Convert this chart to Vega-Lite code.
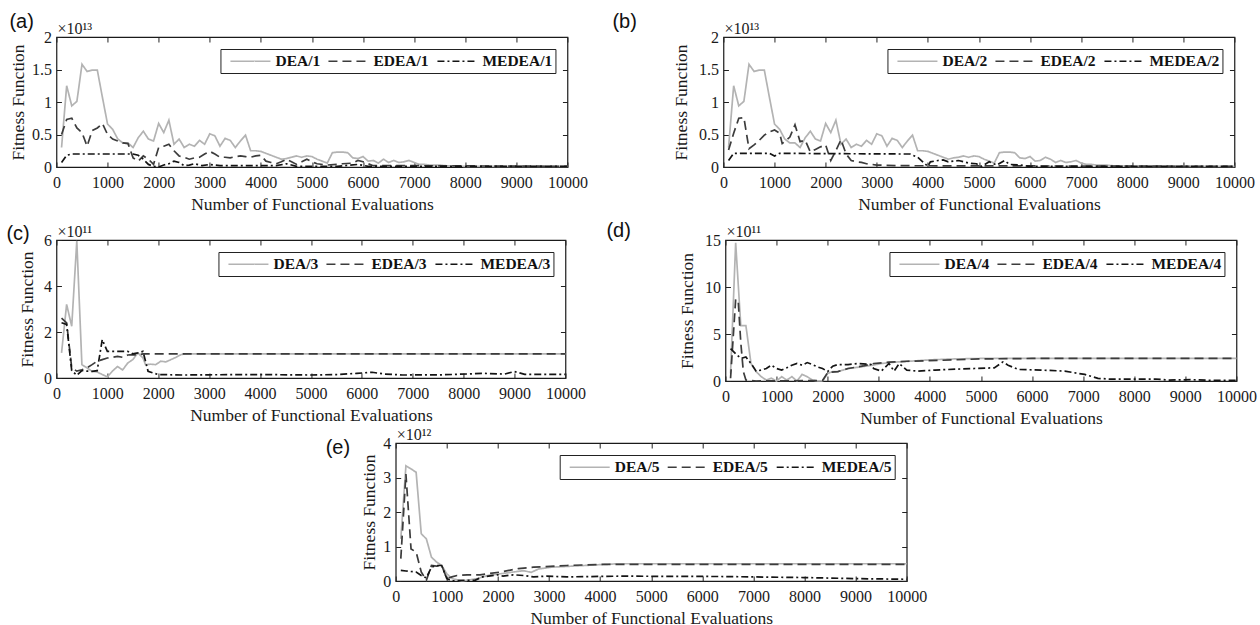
{
"$schema": "https://vega.github.io/schema/vega-lite/v6.json",
"background": "white",
"padding": {"left": 5, "top": 11, "right": 0, "bottom": 0},
"config": {
  "view": {"stroke": "#1a1a1a", "strokeWidth": 1.2},
  "axis": {"labelFont": "Liberation Serif", "labelFontSize": 16, "labelColor": "#1a1a1a", "titleFont": "Liberation Serif", "titleFontSize": 17.5, "titleFontWeight": "normal", "titleColor": "#1a1a1a", "grid": false, "domain": false, "tickColor": "#222", "tickSize": -5, "labelPadding": 10, "labelFlush": false, "labelOverlap": false},
  "axisBottom": {"labelPadding": 12, "titlePadding": 5},
  "legend": {"orient": "top-right", "offset": 12, "direction": "horizontal", "strokeColor": "#222", "fillColor": "white", "padding": 3, "symbolType": "M-2.5,0H2.5", "symbolSize": 256, "symbolOffset": 18, "symbolStrokeWidth": 1.8, "labelFont": "Liberation Serif", "labelFontSize": 15.5, "labelFontWeight": "bold", "labelColor": "#111", "labelOffset": 16, "columnPadding": 1, "cornerRadius": 0},
  "title": {"font": "Liberation Sans", "fontSize": 20, "fontWeight": "normal", "color": "#111", "anchor": "start", "frame": "group"},
  "line": {"strokeWidth": 1.7}
},
"datasets": {
"a": [
{"x":100,"y":0.30,"s":"DEA/1"},{"x":200,"y":1.25,"s":"DEA/1"},{"x":300,"y":0.94,"s":"DEA/1"},{"x":400,"y":1.01,"s":"DEA/1"},{"x":500,"y":1.58,"s":"DEA/1"},{"x":600,"y":1.47,"s":"DEA/1"},{"x":700,"y":1.49,"s":"DEA/1"},{"x":800,"y":1.49,"s":"DEA/1"},{"x":900,"y":1.07,"s":"DEA/1"},{"x":1000,"y":0.66,"s":"DEA/1"},{"x":1100,"y":0.58,"s":"DEA/1"},{"x":1200,"y":0.43,"s":"DEA/1"},{"x":1300,"y":0.37,"s":"DEA/1"},{"x":1400,"y":0.37,"s":"DEA/1"},{"x":1500,"y":0.30,"s":"DEA/1"},{"x":1600,"y":0.45,"s":"DEA/1"},{"x":1700,"y":0.55,"s":"DEA/1"},{"x":1800,"y":0.43,"s":"DEA/1"},{"x":1900,"y":0.40,"s":"DEA/1"},{"x":2000,"y":0.67,"s":"DEA/1"},{"x":2100,"y":0.53,"s":"DEA/1"},{"x":2200,"y":0.72,"s":"DEA/1"},{"x":2300,"y":0.35,"s":"DEA/1"},{"x":2400,"y":0.43,"s":"DEA/1"},{"x":2500,"y":0.30,"s":"DEA/1"},{"x":2600,"y":0.35,"s":"DEA/1"},{"x":2700,"y":0.32,"s":"DEA/1"},{"x":2800,"y":0.41,"s":"DEA/1"},{"x":2900,"y":0.35,"s":"DEA/1"},{"x":3000,"y":0.51,"s":"DEA/1"},{"x":3100,"y":0.48,"s":"DEA/1"},{"x":3200,"y":0.32,"s":"DEA/1"},{"x":3300,"y":0.44,"s":"DEA/1"},{"x":3400,"y":0.41,"s":"DEA/1"},{"x":3500,"y":0.30,"s":"DEA/1"},{"x":3600,"y":0.40,"s":"DEA/1"},{"x":3700,"y":0.49,"s":"DEA/1"},{"x":3800,"y":0.25,"s":"DEA/1"},{"x":3900,"y":0.25,"s":"DEA/1"},{"x":4000,"y":0.24,"s":"DEA/1"},{"x":4100,"y":0.21,"s":"DEA/1"},{"x":4200,"y":0.18,"s":"DEA/1"},{"x":4300,"y":0.15,"s":"DEA/1"},{"x":4400,"y":0.12,"s":"DEA/1"},{"x":4500,"y":0.13,"s":"DEA/1"},{"x":4600,"y":0.15,"s":"DEA/1"},{"x":4700,"y":0.17,"s":"DEA/1"},{"x":4800,"y":0.15,"s":"DEA/1"},{"x":4900,"y":0.17,"s":"DEA/1"},{"x":5000,"y":0.16,"s":"DEA/1"},{"x":5100,"y":0.12,"s":"DEA/1"},{"x":5200,"y":0.09,"s":"DEA/1"},{"x":5300,"y":0.06,"s":"DEA/1"},{"x":5400,"y":0.22,"s":"DEA/1"},{"x":5500,"y":0.23,"s":"DEA/1"},{"x":5600,"y":0.23,"s":"DEA/1"},{"x":5700,"y":0.22,"s":"DEA/1"},{"x":5800,"y":0.14,"s":"DEA/1"},{"x":5900,"y":0.13,"s":"DEA/1"},{"x":6000,"y":0.16,"s":"DEA/1"},{"x":6100,"y":0.09,"s":"DEA/1"},{"x":6200,"y":0.10,"s":"DEA/1"},{"x":6300,"y":0.06,"s":"DEA/1"},{"x":6400,"y":0.12,"s":"DEA/1"},{"x":6500,"y":0.07,"s":"DEA/1"},{"x":6600,"y":0.10,"s":"DEA/1"},{"x":6700,"y":0.07,"s":"DEA/1"},{"x":6800,"y":0.08,"s":"DEA/1"},{"x":6900,"y":0.10,"s":"DEA/1"},{"x":7000,"y":0.07,"s":"DEA/1"},{"x":7100,"y":0.04,"s":"DEA/1"},{"x":7200,"y":0.04,"s":"DEA/1"},{"x":7300,"y":0.03,"s":"DEA/1"},{"x":7500,"y":0.03,"s":"DEA/1"},{"x":7600,"y":0.02,"s":"DEA/1"},{"x":8000,"y":0.01,"s":"DEA/1"},{"x":10000,"y":0.01,"s":"DEA/1"},
{"x":100,"y":0.50,"s":"EDEA/1"},{"x":200,"y":0.73,"s":"EDEA/1"},{"x":300,"y":0.75,"s":"EDEA/1"},{"x":400,"y":0.60,"s":"EDEA/1"},{"x":500,"y":0.53,"s":"EDEA/1"},{"x":600,"y":0.32,"s":"EDEA/1"},{"x":700,"y":0.56,"s":"EDEA/1"},{"x":800,"y":0.60,"s":"EDEA/1"},{"x":900,"y":0.67,"s":"EDEA/1"},{"x":1000,"y":0.50,"s":"EDEA/1"},{"x":1100,"y":0.43,"s":"EDEA/1"},{"x":1200,"y":0.40,"s":"EDEA/1"},{"x":1300,"y":0.37,"s":"EDEA/1"},{"x":1400,"y":0.36,"s":"EDEA/1"},{"x":1500,"y":0.14,"s":"EDEA/1"},{"x":1600,"y":0.09,"s":"EDEA/1"},{"x":1700,"y":0.17,"s":"EDEA/1"},{"x":1800,"y":0.12,"s":"EDEA/1"},{"x":1900,"y":0.04,"s":"EDEA/1"},{"x":2000,"y":0.30,"s":"EDEA/1"},{"x":2100,"y":0.32,"s":"EDEA/1"},{"x":2200,"y":0.35,"s":"EDEA/1"},{"x":2300,"y":0.25,"s":"EDEA/1"},{"x":2400,"y":0.17,"s":"EDEA/1"},{"x":2500,"y":0.15,"s":"EDEA/1"},{"x":2600,"y":0.12,"s":"EDEA/1"},{"x":2700,"y":0.14,"s":"EDEA/1"},{"x":2800,"y":0.15,"s":"EDEA/1"},{"x":2900,"y":0.20,"s":"EDEA/1"},{"x":3000,"y":0.24,"s":"EDEA/1"},{"x":3100,"y":0.20,"s":"EDEA/1"},{"x":3200,"y":0.15,"s":"EDEA/1"},{"x":3300,"y":0.15,"s":"EDEA/1"},{"x":3400,"y":0.14,"s":"EDEA/1"},{"x":3500,"y":0.16,"s":"EDEA/1"},{"x":3600,"y":0.17,"s":"EDEA/1"},{"x":3700,"y":0.16,"s":"EDEA/1"},{"x":3800,"y":0.15,"s":"EDEA/1"},{"x":3900,"y":0.17,"s":"EDEA/1"},{"x":4000,"y":0.18,"s":"EDEA/1"},{"x":4100,"y":0.09,"s":"EDEA/1"},{"x":4200,"y":0.07,"s":"EDEA/1"},{"x":4300,"y":0.05,"s":"EDEA/1"},{"x":4400,"y":0.08,"s":"EDEA/1"},{"x":4500,"y":0.12,"s":"EDEA/1"},{"x":4600,"y":0.08,"s":"EDEA/1"},{"x":4700,"y":0.04,"s":"EDEA/1"},{"x":4800,"y":0.08,"s":"EDEA/1"},{"x":4900,"y":0.12,"s":"EDEA/1"},{"x":5000,"y":0.08,"s":"EDEA/1"},{"x":5100,"y":0.05,"s":"EDEA/1"},{"x":5300,"y":0.03,"s":"EDEA/1"},{"x":5500,"y":0.04,"s":"EDEA/1"},{"x":5600,"y":0.05,"s":"EDEA/1"},{"x":5800,"y":0.06,"s":"EDEA/1"},{"x":5900,"y":0.10,"s":"EDEA/1"},{"x":6000,"y":0.08,"s":"EDEA/1"},{"x":6200,"y":0.02,"s":"EDEA/1"},{"x":7000,"y":0.02,"s":"EDEA/1"},{"x":10000,"y":0.01,"s":"EDEA/1"},
{"x":100,"y":0.07,"s":"MEDEA/1"},{"x":200,"y":0.18,"s":"MEDEA/1"},{"x":300,"y":0.20,"s":"MEDEA/1"},{"x":1500,"y":0.20,"s":"MEDEA/1"},{"x":1600,"y":0.18,"s":"MEDEA/1"},{"x":1700,"y":0.12,"s":"MEDEA/1"},{"x":1800,"y":0.04,"s":"MEDEA/1"},{"x":1900,"y":0.01,"s":"MEDEA/1"},{"x":2000,"y":0.0,"s":"MEDEA/1"},{"x":2100,"y":0.03,"s":"MEDEA/1"},{"x":2200,"y":0.05,"s":"MEDEA/1"},{"x":2300,"y":0.09,"s":"MEDEA/1"},{"x":2400,"y":0.07,"s":"MEDEA/1"},{"x":2500,"y":0.02,"s":"MEDEA/1"},{"x":2600,"y":0.03,"s":"MEDEA/1"},{"x":2700,"y":0.05,"s":"MEDEA/1"},{"x":2850,"y":0.02,"s":"MEDEA/1"},{"x":3000,"y":0.04,"s":"MEDEA/1"},{"x":3200,"y":0.02,"s":"MEDEA/1"},{"x":4300,"y":0.02,"s":"MEDEA/1"},{"x":4500,"y":0.05,"s":"MEDEA/1"},{"x":4700,"y":0.01,"s":"MEDEA/1"},{"x":5500,"y":0.01,"s":"MEDEA/1"},{"x":5900,"y":0.04,"s":"MEDEA/1"},{"x":6100,"y":0.01,"s":"MEDEA/1"},{"x":10000,"y":0.01,"s":"MEDEA/1"}
],
"b": [
{"x":100,"y":0.30,"s":"DEA/2"},{"x":200,"y":1.25,"s":"DEA/2"},{"x":300,"y":0.94,"s":"DEA/2"},{"x":400,"y":1.01,"s":"DEA/2"},{"x":500,"y":1.58,"s":"DEA/2"},{"x":600,"y":1.47,"s":"DEA/2"},{"x":700,"y":1.49,"s":"DEA/2"},{"x":800,"y":1.49,"s":"DEA/2"},{"x":900,"y":1.07,"s":"DEA/2"},{"x":1000,"y":0.66,"s":"DEA/2"},{"x":1100,"y":0.58,"s":"DEA/2"},{"x":1200,"y":0.43,"s":"DEA/2"},{"x":1300,"y":0.37,"s":"DEA/2"},{"x":1400,"y":0.37,"s":"DEA/2"},{"x":1500,"y":0.30,"s":"DEA/2"},{"x":1600,"y":0.45,"s":"DEA/2"},{"x":1700,"y":0.55,"s":"DEA/2"},{"x":1800,"y":0.43,"s":"DEA/2"},{"x":1900,"y":0.40,"s":"DEA/2"},{"x":2000,"y":0.67,"s":"DEA/2"},{"x":2100,"y":0.53,"s":"DEA/2"},{"x":2200,"y":0.72,"s":"DEA/2"},{"x":2300,"y":0.35,"s":"DEA/2"},{"x":2400,"y":0.43,"s":"DEA/2"},{"x":2500,"y":0.30,"s":"DEA/2"},{"x":2600,"y":0.35,"s":"DEA/2"},{"x":2700,"y":0.32,"s":"DEA/2"},{"x":2800,"y":0.41,"s":"DEA/2"},{"x":2900,"y":0.35,"s":"DEA/2"},{"x":3000,"y":0.51,"s":"DEA/2"},{"x":3100,"y":0.48,"s":"DEA/2"},{"x":3200,"y":0.32,"s":"DEA/2"},{"x":3300,"y":0.44,"s":"DEA/2"},{"x":3400,"y":0.41,"s":"DEA/2"},{"x":3500,"y":0.30,"s":"DEA/2"},{"x":3600,"y":0.40,"s":"DEA/2"},{"x":3700,"y":0.49,"s":"DEA/2"},{"x":3800,"y":0.25,"s":"DEA/2"},{"x":3900,"y":0.25,"s":"DEA/2"},{"x":4000,"y":0.24,"s":"DEA/2"},{"x":4100,"y":0.21,"s":"DEA/2"},{"x":4200,"y":0.18,"s":"DEA/2"},{"x":4300,"y":0.15,"s":"DEA/2"},{"x":4400,"y":0.12,"s":"DEA/2"},{"x":4500,"y":0.14,"s":"DEA/2"},{"x":4600,"y":0.15,"s":"DEA/2"},{"x":4700,"y":0.17,"s":"DEA/2"},{"x":4800,"y":0.15,"s":"DEA/2"},{"x":4900,"y":0.17,"s":"DEA/2"},{"x":5000,"y":0.16,"s":"DEA/2"},{"x":5100,"y":0.12,"s":"DEA/2"},{"x":5200,"y":0.09,"s":"DEA/2"},{"x":5300,"y":0.06,"s":"DEA/2"},{"x":5400,"y":0.22,"s":"DEA/2"},{"x":5500,"y":0.23,"s":"DEA/2"},{"x":5600,"y":0.23,"s":"DEA/2"},{"x":5700,"y":0.22,"s":"DEA/2"},{"x":5800,"y":0.14,"s":"DEA/2"},{"x":5900,"y":0.13,"s":"DEA/2"},{"x":6000,"y":0.16,"s":"DEA/2"},{"x":6100,"y":0.09,"s":"DEA/2"},{"x":6200,"y":0.10,"s":"DEA/2"},{"x":6300,"y":0.15,"s":"DEA/2"},{"x":6400,"y":0.12,"s":"DEA/2"},{"x":6500,"y":0.07,"s":"DEA/2"},{"x":6600,"y":0.10,"s":"DEA/2"},{"x":6700,"y":0.07,"s":"DEA/2"},{"x":6800,"y":0.08,"s":"DEA/2"},{"x":6900,"y":0.10,"s":"DEA/2"},{"x":7000,"y":0.06,"s":"DEA/2"},{"x":7100,"y":0.04,"s":"DEA/2"},{"x":7200,"y":0.04,"s":"DEA/2"},{"x":7300,"y":0.03,"s":"DEA/2"},{"x":7500,"y":0.03,"s":"DEA/2"},{"x":7600,"y":0.02,"s":"DEA/2"},{"x":8000,"y":0.01,"s":"DEA/2"},{"x":10000,"y":0.01,"s":"DEA/2"},
{"x":100,"y":0.26,"s":"EDEA/2"},{"x":200,"y":0.52,"s":"EDEA/2"},{"x":300,"y":0.75,"s":"EDEA/2"},{"x":400,"y":0.76,"s":"EDEA/2"},{"x":500,"y":0.28,"s":"EDEA/2"},{"x":600,"y":0.34,"s":"EDEA/2"},{"x":700,"y":0.41,"s":"EDEA/2"},{"x":800,"y":0.49,"s":"EDEA/2"},{"x":900,"y":0.54,"s":"EDEA/2"},{"x":1000,"y":0.57,"s":"EDEA/2"},{"x":1100,"y":0.52,"s":"EDEA/2"},{"x":1150,"y":0.36,"s":"EDEA/2"},{"x":1200,"y":0.39,"s":"EDEA/2"},{"x":1300,"y":0.46,"s":"EDEA/2"},{"x":1400,"y":0.65,"s":"EDEA/2"},{"x":1500,"y":0.39,"s":"EDEA/2"},{"x":1600,"y":0.41,"s":"EDEA/2"},{"x":1700,"y":0.23,"s":"EDEA/2"},{"x":1800,"y":0.27,"s":"EDEA/2"},{"x":1900,"y":0.31,"s":"EDEA/2"},{"x":2000,"y":0.34,"s":"EDEA/2"},{"x":2100,"y":0.10,"s":"EDEA/2"},{"x":2200,"y":0.25,"s":"EDEA/2"},{"x":2300,"y":0.42,"s":"EDEA/2"},{"x":2400,"y":0.20,"s":"EDEA/2"},{"x":2500,"y":0.10,"s":"EDEA/2"},{"x":2600,"y":0.08,"s":"EDEA/2"},{"x":2700,"y":0.07,"s":"EDEA/2"},{"x":2800,"y":0.05,"s":"EDEA/2"},{"x":2900,"y":0.04,"s":"EDEA/2"},{"x":3000,"y":0.03,"s":"EDEA/2"},{"x":3400,"y":0.02,"s":"EDEA/2"},{"x":10000,"y":0.01,"s":"EDEA/2"},
{"x":100,"y":0.10,"s":"MEDEA/2"},{"x":200,"y":0.21,"s":"MEDEA/2"},{"x":900,"y":0.21,"s":"MEDEA/2"},{"x":1000,"y":0.17,"s":"MEDEA/2"},{"x":1100,"y":0.21,"s":"MEDEA/2"},{"x":3500,"y":0.20,"s":"MEDEA/2"},{"x":3650,"y":0.20,"s":"MEDEA/2"},{"x":3800,"y":0.15,"s":"MEDEA/2"},{"x":3900,"y":0.08,"s":"MEDEA/2"},{"x":4000,"y":0.01,"s":"MEDEA/2"},{"x":4050,"y":0.08,"s":"MEDEA/2"},{"x":4200,"y":0.10,"s":"MEDEA/2"},{"x":4300,"y":0.11,"s":"MEDEA/2"},{"x":4400,"y":0.08,"s":"MEDEA/2"},{"x":4600,"y":0.10,"s":"MEDEA/2"},{"x":4800,"y":0.06,"s":"MEDEA/2"},{"x":4950,"y":0.05,"s":"MEDEA/2"},{"x":5050,"y":0.01,"s":"MEDEA/2"},{"x":5200,"y":0.08,"s":"MEDEA/2"},{"x":5350,"y":0.03,"s":"MEDEA/2"},{"x":5500,"y":0.10,"s":"MEDEA/2"},{"x":5600,"y":0.04,"s":"MEDEA/2"},{"x":5800,"y":0.03,"s":"MEDEA/2"},{"x":6000,"y":0.01,"s":"MEDEA/2"},{"x":10000,"y":0.01,"s":"MEDEA/2"}
],
"c": [
{"x":100,"y":1.09,"s":"DEA/3"},{"x":200,"y":3.2,"s":"DEA/3"},{"x":300,"y":2.25,"s":"DEA/3"},{"x":400,"y":5.96,"s":"DEA/3"},{"x":500,"y":0.58,"s":"DEA/3"},{"x":600,"y":0.44,"s":"DEA/3"},{"x":700,"y":0.29,"s":"DEA/3"},{"x":800,"y":0.26,"s":"DEA/3"},{"x":900,"y":0.15,"s":"DEA/3"},{"x":1000,"y":0.05,"s":"DEA/3"},{"x":1100,"y":0.3,"s":"DEA/3"},{"x":1200,"y":0.5,"s":"DEA/3"},{"x":1300,"y":0.35,"s":"DEA/3"},{"x":1400,"y":0.65,"s":"DEA/3"},{"x":1500,"y":0.8,"s":"DEA/3"},{"x":1600,"y":1.09,"s":"DEA/3"},{"x":1700,"y":0.87,"s":"DEA/3"},{"x":1750,"y":0.58,"s":"DEA/3"},{"x":1850,"y":0.6,"s":"DEA/3"},{"x":1950,"y":0.58,"s":"DEA/3"},{"x":2050,"y":0.73,"s":"DEA/3"},{"x":2150,"y":0.7,"s":"DEA/3"},{"x":2250,"y":0.8,"s":"DEA/3"},{"x":2350,"y":0.9,"s":"DEA/3"},{"x":2450,"y":1.02,"s":"DEA/3"},{"x":2550,"y":1.05,"s":"DEA/3"},{"x":10000,"y":1.05,"s":"DEA/3"},
{"x":100,"y":2.6,"s":"EDEA/3"},{"x":200,"y":2.4,"s":"EDEA/3"},{"x":300,"y":0.44,"s":"EDEA/3"},{"x":400,"y":0.3,"s":"EDEA/3"},{"x":500,"y":0.36,"s":"EDEA/3"},{"x":600,"y":0.44,"s":"EDEA/3"},{"x":700,"y":0.58,"s":"EDEA/3"},{"x":800,"y":0.73,"s":"EDEA/3"},{"x":900,"y":0.8,"s":"EDEA/3"},{"x":1000,"y":0.87,"s":"EDEA/3"},{"x":1100,"y":0.9,"s":"EDEA/3"},{"x":1200,"y":0.94,"s":"EDEA/3"},{"x":1300,"y":0.9,"s":"EDEA/3"},{"x":1400,"y":1.0,"s":"EDEA/3"},{"x":1500,"y":1.02,"s":"EDEA/3"},{"x":1600,"y":1.0,"s":"EDEA/3"},{"x":1700,"y":1.05,"s":"EDEA/3"},{"x":10000,"y":1.05,"s":"EDEA/3"},
{"x":100,"y":2.4,"s":"MEDEA/3"},{"x":200,"y":2.33,"s":"MEDEA/3"},{"x":300,"y":0.32,"s":"MEDEA/3"},{"x":400,"y":0.12,"s":"MEDEA/3"},{"x":500,"y":0.32,"s":"MEDEA/3"},{"x":600,"y":0.3,"s":"MEDEA/3"},{"x":700,"y":0.29,"s":"MEDEA/3"},{"x":800,"y":0.32,"s":"MEDEA/3"},{"x":900,"y":1.67,"s":"MEDEA/3"},{"x":1000,"y":1.16,"s":"MEDEA/3"},{"x":1400,"y":1.16,"s":"MEDEA/3"},{"x":1500,"y":1.05,"s":"MEDEA/3"},{"x":1600,"y":1.09,"s":"MEDEA/3"},{"x":1700,"y":1.16,"s":"MEDEA/3"},{"x":1800,"y":0.29,"s":"MEDEA/3"},{"x":1900,"y":0.22,"s":"MEDEA/3"},{"x":2000,"y":0.15,"s":"MEDEA/3"},{"x":2500,"y":0.13,"s":"MEDEA/3"},{"x":3000,"y":0.14,"s":"MEDEA/3"},{"x":4000,"y":0.15,"s":"MEDEA/3"},{"x":5000,"y":0.13,"s":"MEDEA/3"},{"x":5500,"y":0.15,"s":"MEDEA/3"},{"x":5900,"y":0.2,"s":"MEDEA/3"},{"x":6200,"y":0.25,"s":"MEDEA/3"},{"x":6450,"y":0.17,"s":"MEDEA/3"},{"x":6800,"y":0.13,"s":"MEDEA/3"},{"x":7600,"y":0.14,"s":"MEDEA/3"},{"x":8400,"y":0.2,"s":"MEDEA/3"},{"x":8800,"y":0.17,"s":"MEDEA/3"},{"x":9000,"y":0.28,"s":"MEDEA/3"},{"x":9200,"y":0.16,"s":"MEDEA/3"},{"x":10000,"y":0.16,"s":"MEDEA/3"}
],
"d": [
{"x":100,"y":0.8,"s":"DEA/4"},{"x":200,"y":14.7,"s":"DEA/4"},{"x":300,"y":5.9,"s":"DEA/4"},{"x":400,"y":5.9,"s":"DEA/4"},{"x":500,"y":1.86,"s":"DEA/4"},{"x":600,"y":1.0,"s":"DEA/4"},{"x":700,"y":0.46,"s":"DEA/4"},{"x":800,"y":0.1,"s":"DEA/4"},{"x":900,"y":0.3,"s":"DEA/4"},{"x":1000,"y":0.0,"s":"DEA/4"},{"x":1100,"y":0.46,"s":"DEA/4"},{"x":1200,"y":0.1,"s":"DEA/4"},{"x":1300,"y":0.46,"s":"DEA/4"},{"x":1400,"y":0.0,"s":"DEA/4"},{"x":1500,"y":0.7,"s":"DEA/4"},{"x":1600,"y":0.46,"s":"DEA/4"},{"x":1700,"y":0.1,"s":"DEA/4"},{"x":1800,"y":0.0,"s":"DEA/4"},{"x":1900,"y":0.0,"s":"DEA/4"},{"x":2000,"y":0.8,"s":"DEA/4"},{"x":2100,"y":1.0,"s":"DEA/4"},{"x":2200,"y":1.0,"s":"DEA/4"},{"x":2300,"y":1.16,"s":"DEA/4"},{"x":2400,"y":1.33,"s":"DEA/4"},{"x":2500,"y":1.4,"s":"DEA/4"},{"x":2650,"y":1.5,"s":"DEA/4"},{"x":2900,"y":1.7,"s":"DEA/4"},{"x":3050,"y":1.86,"s":"DEA/4"},{"x":3300,"y":2.0,"s":"DEA/4"},{"x":3600,"y":2.1,"s":"DEA/4"},{"x":4000,"y":2.25,"s":"DEA/4"},{"x":4500,"y":2.35,"s":"DEA/4"},{"x":5000,"y":2.4,"s":"DEA/4"},{"x":10000,"y":2.4,"s":"DEA/4"},
{"x":100,"y":0.3,"s":"EDEA/4"},{"x":200,"y":8.7,"s":"EDEA/4"},{"x":250,"y":8.5,"s":"EDEA/4"},{"x":300,"y":4.1,"s":"EDEA/4"},{"x":350,"y":1.0,"s":"EDEA/4"},{"x":400,"y":0.1,"s":"EDEA/4"},{"x":600,"y":0.0,"s":"EDEA/4"},{"x":1900,"y":0.05,"s":"EDEA/4"},{"x":2000,"y":0.9,"s":"EDEA/4"},{"x":2200,"y":1.0,"s":"EDEA/4"},{"x":2400,"y":1.33,"s":"EDEA/4"},{"x":2700,"y":1.6,"s":"EDEA/4"},{"x":2900,"y":1.86,"s":"EDEA/4"},{"x":3200,"y":2.0,"s":"EDEA/4"},{"x":3550,"y":2.1,"s":"EDEA/4"},{"x":4200,"y":2.2,"s":"EDEA/4"},{"x":5000,"y":2.35,"s":"EDEA/4"},{"x":6000,"y":2.4,"s":"EDEA/4"},{"x":10000,"y":2.4,"s":"EDEA/4"},
{"x":100,"y":3.44,"s":"MEDEA/4"},{"x":200,"y":2.9,"s":"MEDEA/4"},{"x":300,"y":2.4,"s":"MEDEA/4"},{"x":400,"y":2.56,"s":"MEDEA/4"},{"x":500,"y":1.86,"s":"MEDEA/4"},{"x":600,"y":1.05,"s":"MEDEA/4"},{"x":700,"y":1.16,"s":"MEDEA/4"},{"x":800,"y":1.33,"s":"MEDEA/4"},{"x":900,"y":1.68,"s":"MEDEA/4"},{"x":1000,"y":1.33,"s":"MEDEA/4"},{"x":1100,"y":1.16,"s":"MEDEA/4"},{"x":1200,"y":1.4,"s":"MEDEA/4"},{"x":1300,"y":1.68,"s":"MEDEA/4"},{"x":1400,"y":1.86,"s":"MEDEA/4"},{"x":1500,"y":1.68,"s":"MEDEA/4"},{"x":1600,"y":1.96,"s":"MEDEA/4"},{"x":1700,"y":1.75,"s":"MEDEA/4"},{"x":1800,"y":1.5,"s":"MEDEA/4"},{"x":1900,"y":1.33,"s":"MEDEA/4"},{"x":2000,"y":1.0,"s":"MEDEA/4"},{"x":2100,"y":1.58,"s":"MEDEA/4"},{"x":2200,"y":1.75,"s":"MEDEA/4"},{"x":2400,"y":1.75,"s":"MEDEA/4"},{"x":2600,"y":1.86,"s":"MEDEA/4"},{"x":2850,"y":1.75,"s":"MEDEA/4"},{"x":2900,"y":1.33,"s":"MEDEA/4"},{"x":3050,"y":1.05,"s":"MEDEA/4"},{"x":3200,"y":1.86,"s":"MEDEA/4"},{"x":3300,"y":1.05,"s":"MEDEA/4"},{"x":3400,"y":1.86,"s":"MEDEA/4"},{"x":3550,"y":1.16,"s":"MEDEA/4"},{"x":3750,"y":1.05,"s":"MEDEA/4"},{"x":4100,"y":1.16,"s":"MEDEA/4"},{"x":4500,"y":1.26,"s":"MEDEA/4"},{"x":4870,"y":1.33,"s":"MEDEA/4"},{"x":5260,"y":1.4,"s":"MEDEA/4"},{"x":5430,"y":2.03,"s":"MEDEA/4"},{"x":5530,"y":1.68,"s":"MEDEA/4"},{"x":5730,"y":1.23,"s":"MEDEA/4"},{"x":6180,"y":1.16,"s":"MEDEA/4"},{"x":6640,"y":1.05,"s":"MEDEA/4"},{"x":7030,"y":0.7,"s":"MEDEA/4"},{"x":7290,"y":0.28,"s":"MEDEA/4"},{"x":7500,"y":0.21,"s":"MEDEA/4"},{"x":8410,"y":0.21,"s":"MEDEA/4"},{"x":8670,"y":0.1,"s":"MEDEA/4"},{"x":9130,"y":0.14,"s":"MEDEA/4"},{"x":9460,"y":0.07,"s":"MEDEA/4"},{"x":10000,"y":0.07,"s":"MEDEA/4"}
],
"e": [
{"x":100,"y":1.22,"s":"DEA/5"},{"x":200,"y":3.34,"s":"DEA/5"},{"x":300,"y":3.25,"s":"DEA/5"},{"x":400,"y":3.15,"s":"DEA/5"},{"x":500,"y":1.37,"s":"DEA/5"},{"x":600,"y":1.22,"s":"DEA/5"},{"x":700,"y":0.69,"s":"DEA/5"},{"x":800,"y":0.55,"s":"DEA/5"},{"x":900,"y":0.45,"s":"DEA/5"},{"x":1000,"y":0.21,"s":"DEA/5"},{"x":1100,"y":0.07,"s":"DEA/5"},{"x":1300,"y":0.0,"s":"DEA/5"},{"x":1600,"y":0.07,"s":"DEA/5"},{"x":1800,"y":0.16,"s":"DEA/5"},{"x":2050,"y":0.21,"s":"DEA/5"},{"x":2300,"y":0.26,"s":"DEA/5"},{"x":2500,"y":0.3,"s":"DEA/5"},{"x":2650,"y":0.25,"s":"DEA/5"},{"x":2800,"y":0.35,"s":"DEA/5"},{"x":3050,"y":0.4,"s":"DEA/5"},{"x":3700,"y":0.45,"s":"DEA/5"},{"x":4350,"y":0.5,"s":"DEA/5"},{"x":10000,"y":0.5,"s":"DEA/5"},
{"x":100,"y":0.65,"s":"EDEA/5"},{"x":200,"y":3.1,"s":"EDEA/5"},{"x":300,"y":0.93,"s":"EDEA/5"},{"x":400,"y":0.84,"s":"EDEA/5"},{"x":500,"y":0.26,"s":"EDEA/5"},{"x":600,"y":0.02,"s":"EDEA/5"},{"x":700,"y":0.45,"s":"EDEA/5"},{"x":800,"y":0.43,"s":"EDEA/5"},{"x":900,"y":0.45,"s":"EDEA/5"},{"x":1000,"y":0.07,"s":"EDEA/5"},{"x":1100,"y":0.12,"s":"EDEA/5"},{"x":1200,"y":0.16,"s":"EDEA/5"},{"x":1400,"y":0.18,"s":"EDEA/5"},{"x":1650,"y":0.18,"s":"EDEA/5"},{"x":2050,"y":0.26,"s":"EDEA/5"},{"x":2400,"y":0.36,"s":"EDEA/5"},{"x":2700,"y":0.4,"s":"EDEA/5"},{"x":3350,"y":0.45,"s":"EDEA/5"},{"x":4000,"y":0.48,"s":"EDEA/5"},{"x":10000,"y":0.48,"s":"EDEA/5"},
{"x":100,"y":0.31,"s":"MEDEA/5"},{"x":200,"y":0.29,"s":"MEDEA/5"},{"x":400,"y":0.26,"s":"MEDEA/5"},{"x":500,"y":0.16,"s":"MEDEA/5"},{"x":600,"y":0.09,"s":"MEDEA/5"},{"x":700,"y":0.4,"s":"MEDEA/5"},{"x":800,"y":0.45,"s":"MEDEA/5"},{"x":900,"y":0.45,"s":"MEDEA/5"},{"x":1000,"y":0.07,"s":"MEDEA/5"},{"x":1100,"y":0.0,"s":"MEDEA/5"},{"x":1300,"y":0.02,"s":"MEDEA/5"},{"x":1550,"y":0.02,"s":"MEDEA/5"},{"x":1700,"y":0.12,"s":"MEDEA/5"},{"x":2000,"y":0.18,"s":"MEDEA/5"},{"x":2100,"y":0.14,"s":"MEDEA/5"},{"x":2300,"y":0.18,"s":"MEDEA/5"},{"x":2500,"y":0.16,"s":"MEDEA/5"},{"x":2700,"y":0.12,"s":"MEDEA/5"},{"x":2950,"y":0.14,"s":"MEDEA/5"},{"x":3350,"y":0.12,"s":"MEDEA/5"},{"x":4400,"y":0.14,"s":"MEDEA/5"},{"x":6360,"y":0.13,"s":"MEDEA/5"},{"x":7990,"y":0.1,"s":"MEDEA/5"},{"x":8960,"y":0.07,"s":"MEDEA/5"},{"x":10000,"y":0.05,"s":"MEDEA/5"}
]
},
"vconcat": [
 {"vconcat": [
  {"hconcat": [
   {"width": 511, "height": 130,
    "title": {"text": "(a)", "dx": -47, "dy": 15},
    "layer": [
     {"data": {"name": "a"}, "mark": {"type": "line"},
      "encoding": {
       "x": {"field": "x", "type": "quantitative", "scale": {"domain": [0, 10000], "nice": false}, "axis": {"orient": "bottom", "values": [0,1000,2000,3000,4000,5000,6000,7000,8000,9000,10000], "format": "d", "title": "Number of Functional Evaluations"}},
       "y": {"field": "y", "type": "quantitative", "scale": {"domain": [0, 2], "nice": false}, "axis": {"orient": "left", "values": [0,0.5,1,1.5,2], "format": "~g", "title": "Fitness Function", "titlePadding": 4}},
       "color": {"field": "s", "type": "nominal", "scale": {"domain": ["DEA/1","EDEA/1","MEDEA/1"], "range": ["#b3b3b3","#3c3c3c","#141414"]}, "legend": {"title": null}},
       "strokeDash": {"field": "s", "type": "nominal", "scale": {"domain": ["DEA/1","EDEA/1","MEDEA/1"], "range": [[1,0],[9,5],[7,3,2,3]]}, "legend": {"title": null}}
      }},
     {"data": {"values": [{"t": "×10¹³"}]}, "mark": {"type": "text", "align": "left", "baseline": "alphabetic", "font": "Liberation Serif", "fontSize": 16, "color": "#1a1a1a", "dx": 1, "dy": -3},
      "encoding": {
       "x": {"datum": 0, "type": "quantitative", "axis": {"orient": "top", "values": [0,1000,2000,3000,4000,5000,6000,7000,8000,9000,10000], "labels": false, "title": null}},
       "y": {"datum": 2, "type": "quantitative", "axis": {"orient": "right", "values": [0,0.5,1,1.5,2], "labels": false, "title": null}},
       "text": {"field": "t"}
      }}
    ],
    "resolve": {"axis": {"x": "independent", "y": "independent"}}
   },
   {"width": 511, "height": 130,
    "title": {"text": "(b)", "dx": -111, "dy": 15},
    "layer": [
     {"data": {"name": "b"}, "mark": {"type": "line"},
      "encoding": {
       "x": {"field": "x", "type": "quantitative", "scale": {"domain": [0, 10000], "nice": false}, "axis": {"orient": "bottom", "values": [0,1000,2000,3000,4000,5000,6000,7000,8000,9000,10000], "format": "d", "title": "Number of Functional Evaluations"}},
       "y": {"field": "y", "type": "quantitative", "scale": {"domain": [0, 2], "nice": false}, "axis": {"orient": "left", "values": [0,0.5,1,1.5,2], "format": "~g", "title": "Fitness Function", "titlePadding": 8}},
       "color": {"field": "s", "type": "nominal", "scale": {"domain": ["DEA/2","EDEA/2","MEDEA/2"], "range": ["#b3b3b3","#3c3c3c","#141414"]}, "legend": {"title": null}},
       "strokeDash": {"field": "s", "type": "nominal", "scale": {"domain": ["DEA/2","EDEA/2","MEDEA/2"], "range": [[1,0],[9,5],[7,3,2,3]]}, "legend": {"title": null}}
      }},
     {"data": {"values": [{"t": "×10¹³"}]}, "mark": {"type": "text", "align": "left", "baseline": "alphabetic", "font": "Liberation Serif", "fontSize": 16, "color": "#1a1a1a", "dx": 1, "dy": -3},
      "encoding": {
       "x": {"datum": 0, "type": "quantitative", "axis": {"orient": "top", "values": [0,1000,2000,3000,4000,5000,6000,7000,8000,9000,10000], "labels": false, "title": null}},
       "y": {"datum": 2, "type": "quantitative", "axis": {"orient": "right", "values": [0,0.5,1,1.5,2], "labels": false, "title": null}},
       "text": {"field": "t"}
      }}
    ],
    "resolve": {"axis": {"x": "independent", "y": "independent"}}
   }
  ], "spacing": 23,
  "resolve": {"scale": {"color": "independent", "strokeDash": "independent"}, "legend": {"color": "independent", "strokeDash": "independent"}}},
  {"hconcat": [
   {"width": 509, "height": 138,
    "title": {"text": "(c)", "dx": -50, "dy": 23.5},
    "layer": [
     {"data": {"name": "c"}, "mark": {"type": "line"},
      "encoding": {
       "x": {"field": "x", "type": "quantitative", "scale": {"domain": [0, 10000], "nice": false}, "axis": {"orient": "bottom", "values": [0,1000,2000,3000,4000,5000,6000,7000,8000,9000,10000], "format": "d", "title": "Number of Functional Evaluations"}},
       "y": {"field": "y", "type": "quantitative", "scale": {"domain": [0, 6], "nice": false}, "axis": {"orient": "left", "values": [0,2,4,6], "format": "~g", "title": "Fitness Function", "titlePadding": 7}},
       "color": {"field": "s", "type": "nominal", "scale": {"domain": ["DEA/3","EDEA/3","MEDEA/3"], "range": ["#b3b3b3","#3c3c3c","#141414"]}, "legend": {"title": null}},
       "strokeDash": {"field": "s", "type": "nominal", "scale": {"domain": ["DEA/3","EDEA/3","MEDEA/3"], "range": [[1,0],[9,5],[7,3,2,3]]}, "legend": {"title": null}}
      }},
     {"data": {"values": [{"t": "×10¹¹"}]}, "mark": {"type": "text", "align": "left", "baseline": "alphabetic", "font": "Liberation Serif", "fontSize": 16, "color": "#1a1a1a", "dx": 1, "dy": -3},
      "encoding": {
       "x": {"datum": 0, "type": "quantitative", "axis": {"orient": "top", "values": [0,1000,2000,3000,4000,5000,6000,7000,8000,9000,10000], "labels": false, "title": null}},
       "y": {"datum": 6, "type": "quantitative", "axis": {"orient": "right", "values": [0,2,4,6], "labels": false, "title": null}},
       "text": {"field": "t"}
      }}
    ],
    "resolve": {"axis": {"x": "independent", "y": "independent"}}
   },
   {"width": 511, "height": 141,
    "title": {"text": "(d)", "dx": -119, "dy": 20.5},
    "layer": [
     {"data": {"name": "d"}, "mark": {"type": "line"},
      "encoding": {
       "x": {"field": "x", "type": "quantitative", "scale": {"domain": [0, 10000], "nice": false}, "axis": {"orient": "bottom", "values": [0,1000,2000,3000,4000,5000,6000,7000,8000,9000,10000], "format": "d", "title": "Number of Functional Evaluations"}},
       "y": {"field": "y", "type": "quantitative", "scale": {"domain": [0, 15], "nice": false}, "axis": {"orient": "left", "values": [0,5,10,15], "format": "~g", "title": "Fitness Function", "titlePadding": 8}},
       "color": {"field": "s", "type": "nominal", "scale": {"domain": ["DEA/4","EDEA/4","MEDEA/4"], "range": ["#b3b3b3","#3c3c3c","#141414"]}, "legend": {"title": null}},
       "strokeDash": {"field": "s", "type": "nominal", "scale": {"domain": ["DEA/4","EDEA/4","MEDEA/4"], "range": [[1,0],[9,5],[7,3,2,3]]}, "legend": {"title": null}}
      }},
     {"data": {"values": [{"t": "×10¹¹"}]}, "mark": {"type": "text", "align": "left", "baseline": "alphabetic", "font": "Liberation Serif", "fontSize": 16, "color": "#1a1a1a", "dx": 1, "dy": -3},
      "encoding": {
       "x": {"datum": 0, "type": "quantitative", "axis": {"orient": "top", "values": [0,1000,2000,3000,4000,5000,6000,7000,8000,9000,10000], "labels": false, "title": null}},
       "y": {"datum": 15, "type": "quantitative", "axis": {"orient": "right", "values": [0,5,10,15], "labels": false, "title": " ", "titlePadding": 11}},
       "text": {"field": "t"}
      }}
    ],
    "resolve": {"axis": {"x": "independent", "y": "independent"}}
   }
  ], "spacing": 19,
  "resolve": {"scale": {"color": "independent", "strokeDash": "independent"}, "legend": {"color": "independent", "strokeDash": "independent"}}}
 ], "spacing": 5,
 "resolve": {"scale": {"color": "independent", "strokeDash": "independent"}, "legend": {"color": "independent", "strokeDash": "independent"}}},
 {"width": 511, "height": 138,
  "title": {"text": "(e)", "dx": -70, "dy": 35},
  "layer": [
   {"data": {"name": "e"}, "mark": {"type": "line"},
    "encoding": {
     "x": {"field": "x", "type": "quantitative", "scale": {"domain": [0, 10000], "nice": false}, "axis": {"orient": "bottom", "values": [0,1000,2000,3000,4000,5000,6000,7000,8000,9000,10000], "format": "d", "title": "Number of Functional Evaluations"}},
     "y": {"field": "y", "type": "quantitative", "scale": {"domain": [0, 4], "nice": false}, "axis": {"orient": "left", "values": [0,1,2,3,4], "format": "~g", "title": "Fitness Function", "titlePadding": 4}},
     "color": {"field": "s", "type": "nominal", "scale": {"domain": ["DEA/5","EDEA/5","MEDEA/5"], "range": ["#b3b3b3","#3c3c3c","#141414"]}, "legend": {"title": null}},
     "strokeDash": {"field": "s", "type": "nominal", "scale": {"domain": ["DEA/5","EDEA/5","MEDEA/5"], "range": [[1,0],[9,5],[7,3,2,3]]}, "legend": {"title": null}}
    }},
   {"data": {"values": [{"t": "×10¹²"}]}, "mark": {"type": "text", "align": "left", "baseline": "alphabetic", "font": "Liberation Serif", "fontSize": 16, "color": "#1a1a1a", "dx": 1, "dy": -3},
    "encoding": {
     "x": {"datum": 0, "type": "quantitative", "axis": {"orient": "top", "values": [0,1000,2000,3000,4000,5000,6000,7000,8000,9000,10000], "labels": false, "title": null}},
     "y": {"datum": 4, "type": "quantitative", "axis": {"orient": "right", "values": [0,1,2,3,4], "labels": false, "title": null}},
     "text": {"field": "t"}
    }}
  ],
  "resolve": {"axis": {"x": "independent", "y": "independent"}}
 }
],
"spacing": -2, "center": true,
"resolve": {"scale": {"color": "independent", "strokeDash": "independent"}, "legend": {"color": "independent", "strokeDash": "independent"}}
}
